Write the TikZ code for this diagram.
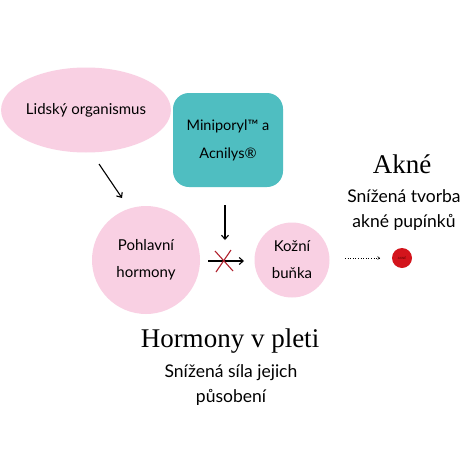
\documentclass[tikz,border=0pt]{standalone}
\usepackage{fontspec}
\setmainfont{Liberation Serif}
\newfontfamily\lato{Lato}
\usetikzlibrary{arrows.meta,shapes.geometric}
\definecolor{pinkfill}{HTML}{F9D0E3}
\definecolor{tealfill}{HTML}{4FBEC1}
\definecolor{redfill}{HTML}{D3141C}
\definecolor{crossred}{HTML}{B0222E}
\tikzset{
  pinkblob/.style={fill=pinkfill, draw=none, align=center, inner sep=0pt, font=\lato\fontsize{15}{27}\selectfont},
  conn/.style={draw=black, line width=1.1pt, -{Straight Barb[length=4pt,width=7pt]}},
  sanstext/.style={align=center, font=\lato\fontsize{17.5}{24.5}\selectfont},
  serifhead/.style={font=\fontsize{27}{30}\selectfont}
}
\begin{document}
\begin{tikzpicture}[x=1pt,y=-1pt]
\useasboundingbox[fill=white] (0,0) rectangle (474,474);
% Lidsky organismus
\node[pinkblob, ellipse, minimum width=152pt, minimum height=85pt] (lo) at (86,110) {Lidský organismus};
% teal box
\node[fill=tealfill, rounded corners=16pt, minimum width=110pt, minimum height=94pt, inner sep=0pt,
      align=center, font=\lato\fontsize{14.5}{28}\selectfont] (mini) at (228,140) {Miniporyl™ a\\Acnilys®};
% Pohlavni hormony
\node[pinkblob, circle, minimum size=108pt] (ph) at (146,260) {Pohlavní\\hormony};
% Kozni bunka
\node[pinkblob, circle, minimum size=75pt] (kb) at (292,260) {Kožní\\buňka};
% red acne circle
\node[circle, fill=redfill, minimum size=20pt, inner sep=0pt, font=\lato\fontsize{3}{3}\selectfont, text=black!70!red] (ak) at (402,258) {AKNÉ};
% coordinates
\coordinate (a1s) at (99,164);
\coordinate (a1e) at (122,198);
\coordinate (a2s) at (225,205);
\coordinate (a2e) at (225,240);
\coordinate (a3s) at (208,261);
\coordinate (a3e) at (244,261);
\coordinate (a4s) at (345,258);
\coordinate (a4e) at (380,258);
\draw[conn] (a1s) -- (a1e);
\draw[conn] (a2s) -- (a2e);
\draw[conn] (a3s) -- (a3e);
\draw[crossred, line width=1.1pt] (215,251) -- (233,271);
\draw[crossred, line width=1.1pt] (231,250) -- (216,272);
\draw[line width=0.6pt, dotted, -{Straight Barb[length=2pt,width=3pt]}] (a4s) -- (a4e);
% texts
\node[serifhead] (akt) at (402,164) {Akné};
\node[sanstext] (akd) at (404,210) {Snížená tvorba\\akné pupínků};
\node[serifhead] (hpt) at (230,341) {Hormony v pleti};
\node[sanstext] (hpd) at (231,385) {Snížená síla jejich\\působení};
\end{tikzpicture}
\end{document}
